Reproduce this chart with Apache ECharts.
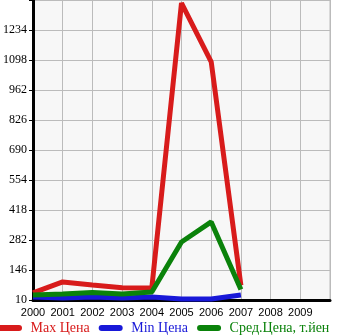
<!DOCTYPE html>
<html><head><meta charset="utf-8">
<script src="https://cdn.jsdelivr.net/npm/echarts@6/dist/echarts.min.js"></script>
<style>html,body{margin:0;padding:0;background:#fff}#c{width:345px;height:335px}</style>
</head><body><div id="c"></div>
<script>
const years = ['2000','2001','2002','2003','2004','2005','2006','2007','2008','2009',''];
const maxPrice = [42, 92, 78, 66, 64, 1356, 1090, 76];
const minPrice = [24, 19, 24, 19, 24, 15, 15, 33];
const avgPrice = [33, 37, 44, 37, 46, 273, 364, 58];
const yTicks = [10, 146, 282, 418, 554, 690, 826, 962, 1098, 1234, 1370];
const yBase = yTicks[0];
const yStep = yTicks[1] - yTicks[0];
const names = ['Max Цена', 'Min Цена', 'Сред.Цена, т.йен'];
const colors = ['#d81b1b', '#1818d8', '#0a820a'];
const shift = a => a.map(v => v - yBase);
const icon = 'path://M3,0 H21 A3,3 0 0 1 21,6 H3 A3,3 0 0 1 3,0 Z';
const chart = echarts.init(document.getElementById('c'), null, {renderer:'canvas'});
chart.setOption({
  animation:false,
  grid:{left:30, right:15, top:0, bottom:35, show:true, backgroundColor:'#f7f7f7', borderColor:'#bbbbbb', borderWidth:1},
  legend:{left:-2, top:321, itemWidth:24, itemHeight:6, itemGap:9, icon:icon, padding:0,
    formatter:n => ' ' + n,
    data:names.map((n,i)=>({name:n, textStyle:{color:colors[i]}})),
    textStyle:{fontFamily:'Liberation Serif', fontSize:14}},
  xAxis:{type:'category', data:years, boundaryGap:false,
    axisLine:{lineStyle:{color:'#000', width:3}},
    axisTick:{show:false},
    axisLabel:{color:'#000', fontFamily:'Liberation Sans', fontSize:11, margin:7, interval:0, showMaxLabel:true},
    splitLine:{show:true, interval:0, lineStyle:{color:'#bbbbbb', width:1}}},
  yAxis:{type:'value', min:0, max:yTicks[yTicks.length-1]-yBase, interval:yStep,
    axisLine:{show:true, lineStyle:{color:'#000', width:3}},
    axisTick:{show:true, length:4, lineStyle:{color:'#000', width:1}},
    axisLabel:{color:'#000', fontFamily:'Liberation Serif', fontSize:12, margin:6,
      formatter:v => (v + yBase >= yTicks[yTicks.length-1]) ? '' : String(v + yBase)},
    splitLine:{show:true, lineStyle:{color:'#bbbbbb', width:1}}},
  series:[
    {name:names[0], type:'line', data:shift(maxPrice), showSymbol:false, lineStyle:{width:5, color:colors[0]}, itemStyle:{color:colors[0]}},
    {name:names[1], type:'line', data:shift(minPrice), showSymbol:false, lineStyle:{width:5, color:colors[1]}, itemStyle:{color:colors[1]}},
    {name:names[2], type:'line', data:shift(avgPrice), showSymbol:false, lineStyle:{width:5, color:colors[2]}, itemStyle:{color:colors[2]}}
  ]
});
</script></body></html>
